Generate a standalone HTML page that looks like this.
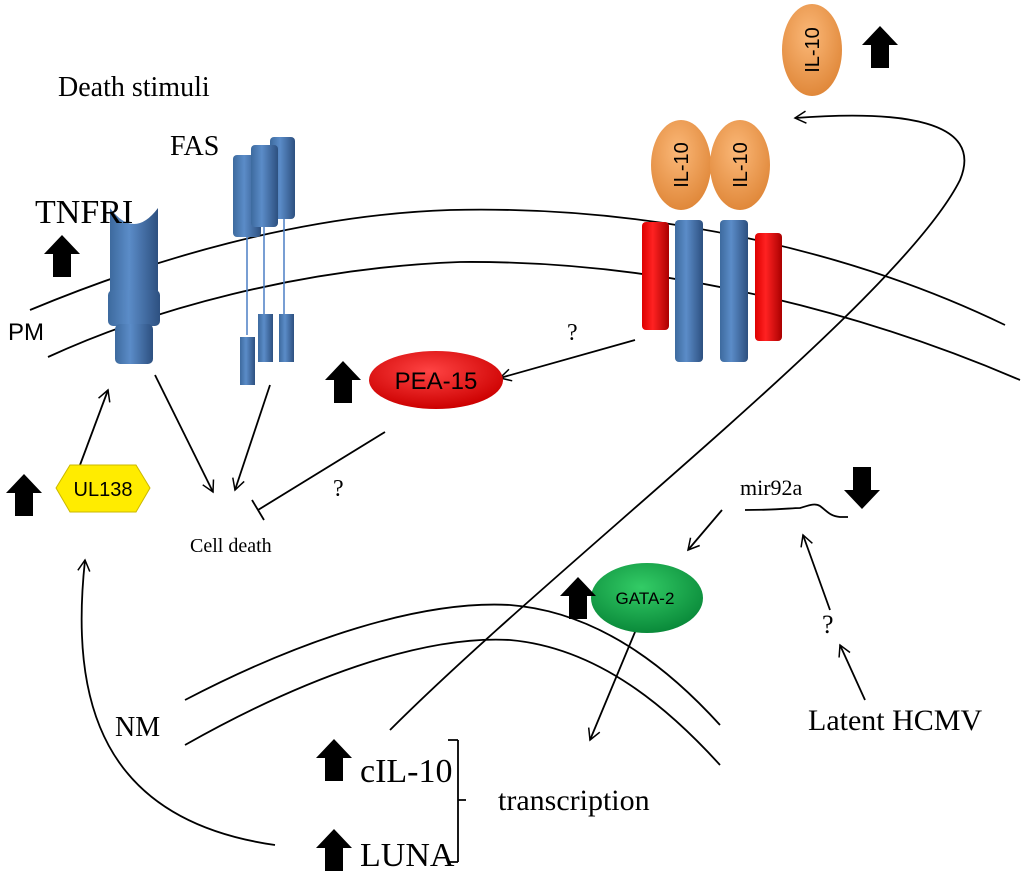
<!DOCTYPE html>
<html><head><meta charset="utf-8"><style>
body{margin:0;background:#fff}
svg{display:block}
.s{font-family:"Liberation Serif",serif;fill:#000}
.a{font-family:"Liberation Sans",sans-serif;fill:#000}
</style></head><body>
<svg width="1024" height="877" viewBox="0 0 1024 877" xmlns="http://www.w3.org/2000/svg">
<defs>
<marker id="ar" markerWidth="14" markerHeight="14" refX="12" refY="7" orient="auto" markerUnits="userSpaceOnUse">
<path d="M1,1 L12,7 L1,13" fill="none" stroke="#000" stroke-width="1.5"/></marker>
<linearGradient id="bl" x1="0" x2="1"><stop offset="0" stop-color="#3d6a9e"/><stop offset=".4" stop-color="#5b8cc8"/><stop offset="1" stop-color="#2d5080"/></linearGradient>
<linearGradient id="rd" x1="0" x2="1"><stop offset="0" stop-color="#d00"/><stop offset=".4" stop-color="#f22"/><stop offset="1" stop-color="#a00"/></linearGradient>
<radialGradient id="or" cx=".45" cy=".35" r=".65"><stop offset="0" stop-color="#fbb878"/><stop offset="1" stop-color="#e0883a"/></radialGradient>
<radialGradient id="gr" cx=".45" cy=".35" r=".65"><stop offset="0" stop-color="#3c6"/><stop offset="1" stop-color="#0a8a3a"/></radialGradient>
<radialGradient id="rr" cx=".45" cy=".35" r=".65"><stop offset="0" stop-color="#f44"/><stop offset="1" stop-color="#c00"/></radialGradient>
<g id="up"><path d="M0,-21 L18,-2 L9,-2 L9,21 L-9,21 L-9,-2 L-18,-2 Z" fill="#000"/></g>
</defs>
<g fill="none" stroke="#000" stroke-width="1.8">
<path d="M30,310 C150,260 300,215 450,210 C650,205 850,250 1005,325"/>
<path d="M48,357 C150,310 300,268 460,262 C680,260 880,320 1020,380"/>
<path d="M185,700 C300,640 420,600 510,605 C600,612 670,670 720,725"/>
<path d="M185,745 C300,680 420,635 510,640 C600,648 670,710 720,765"/>
<path d="M390,730 C560,560 900,300 960,180 C985,120 900,110 795,118" marker-end="url(#ar)"/>
<path d="M635,340 L500,378" marker-end="url(#ar)"/>
<path d="M80,465 L108,390" marker-end="url(#ar)"/>
<path d="M155,375 L213,492" marker-end="url(#ar)"/>
<path d="M270,385 L235,490" marker-end="url(#ar)"/>
<path d="M385,432 L258,510 M252,500 L264,520"/>
<path d="M275,845 C100,820 70,700 85,560" marker-end="url(#ar)"/>
<path d="M722,510 L688,550" marker-end="url(#ar)"/>
<path d="M865,700 L840,645" marker-end="url(#ar)"/>
<path d="M830,610 L803,535" marker-end="url(#ar)"/>
<path d="M640,620 L590,740" marker-end="url(#ar)"/>
<path d="M745,510 C780,510 790,508 800,508 C810,505 815,503 820,506 C828,512 830,516 840,517 L848,517"/>
<path d="M458,740 L458,800 M458,795 L458,862 M448,740 L458,740 M448,862 L458,862 M458,800 L466,800"/>
</g>
<!-- TNFRI -->
<path d="M110,208 L110,300 L158,300 L158,208 Q134,240 110,208 Z" fill="url(#bl)"/>
<rect x="108" y="290" width="52" height="36" rx="5" fill="url(#bl)"/>
<rect x="115" y="324" width="38" height="40" rx="5" fill="url(#bl)"/>
<!-- FAS -->
<rect x="233" y="155" width="28" height="82" rx="4" fill="url(#bl)"/>
<rect x="270" y="137" width="25" height="82" rx="4" fill="url(#bl)"/>
<rect x="251" y="145" width="27" height="82" rx="4" fill="url(#bl)"/>
<g stroke="#4a7ec4" stroke-width="1.5"><line x1="247" y1="237" x2="247" y2="335"/><line x1="264" y1="227" x2="264" y2="315"/><line x1="284" y1="219" x2="284" y2="315"/></g>
<rect x="240" y="337" width="15" height="48" fill="url(#bl)"/>
<rect x="258" y="314" width="15" height="48" fill="url(#bl)"/>
<rect x="279" y="314" width="15" height="48" fill="url(#bl)"/>
<!-- IL-10 receptor -->
<rect x="642" y="222" width="27" height="108" rx="4" fill="url(#rd)"/>
<rect x="755" y="233" width="27" height="108" rx="4" fill="url(#rd)"/>
<rect x="675" y="220" width="28" height="142" rx="4" fill="url(#bl)"/>
<rect x="720" y="220" width="28" height="142" rx="4" fill="url(#bl)"/>
<ellipse cx="681" cy="165" rx="30" ry="45" fill="url(#or)"/>
<ellipse cx="740" cy="165" rx="30" ry="45" fill="url(#or)"/>
<text class="a" font-size="20" transform="translate(688,165) rotate(-90)" text-anchor="middle">IL-10</text>
<text class="a" font-size="20" transform="translate(747,165) rotate(-90)" text-anchor="middle">IL-10</text>
<ellipse cx="812" cy="50" rx="30" ry="46" fill="url(#or)"/>
<text class="a" font-size="20" transform="translate(819,50) rotate(-90)" text-anchor="middle">IL-10</text>
<ellipse cx="436" cy="380" rx="67" ry="29" fill="url(#rr)"/>
<text class="a" font-size="24" x="436" y="389" text-anchor="middle">PEA-15</text>
<path d="M56,488 L70,465 L136,465 L150,488 L136,512 L70,512 Z" fill="#ffec00" stroke="#cbb800"/>
<text class="a" font-size="20" x="103" y="496" text-anchor="middle">UL138</text>
<ellipse cx="647" cy="598" rx="56" ry="35" fill="url(#gr)"/>
<text class="a" font-size="17" x="645" y="604" text-anchor="middle">GATA-2</text>
<use href="#up" x="62" y="256"/>
<use href="#up" x="343" y="382"/>
<use href="#up" x="24" y="495"/>
<use href="#up" x="578" y="598"/>
<use href="#up" x="334" y="760"/>
<use href="#up" x="334" y="850"/>
<use href="#up" x="880" y="47"/>
<use href="#up" transform="translate(862,488) rotate(180)"/>
<text class="s" font-size="28" x="58" y="96">Death stimuli</text>
<text class="s" font-size="28" x="170" y="155">FAS</text>
<text class="s" font-size="34" x="35" y="223">TNFRI</text>
<text class="a" font-size="24" x="8" y="340">PM</text>
<text class="s" font-size="20" x="190" y="552">Cell death</text>
<text class="s" font-size="24" x="333" y="496">?</text>
<text class="s" font-size="24" x="567" y="340">?</text>
<text class="s" font-size="22" x="740" y="495">mir92a</text>
<text class="s" font-size="26" x="822" y="633">?</text>
<text class="s" font-size="30" x="808" y="730">Latent HCMV</text>
<text class="s" font-size="28" x="115" y="736">NM</text>
<text class="s" font-size="34" x="360" y="782">cIL-10</text>
<text class="s" font-size="34" x="360" y="866">LUNA</text>
<text class="s" font-size="30" x="498" y="810">transcription</text>
</svg>
</body></html>
